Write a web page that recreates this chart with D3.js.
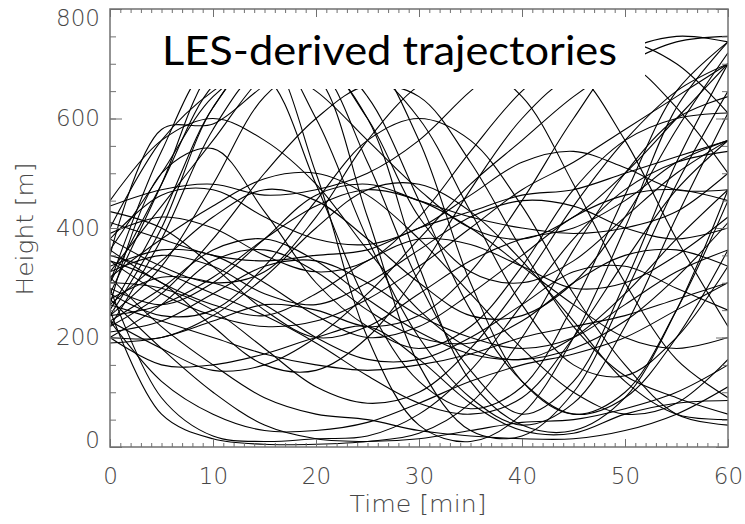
<!DOCTYPE html>
<html>
<head>
<meta charset="utf-8">
<script src="https://cdn.jsdelivr.net/npm/d3@7"></script>
<style>
  body { margin: 0; background: #fff; }
  svg { display: block; }
</style>
</head>
<body>
<svg id="chart" width="745" height="524"></svg>
<script>
// Sample times of each trajectory [min]
const times = [0, 5, 10, 15, 20, 25, 30, 35, 40, 45, 50, 55, 60];

// Parcel heights [m] at each sample time, one row per trajectory
const heights = [
  [250, 420, 620, 720, 700, 520, 300, 140, 60, 120, 300, 520, 700],
  [280, 480, 690, 740, 600, 380, 200, 90, 40, 80, 220, 420, 610],
  [300, 540, 700, 680, 480, 260, 120, 70, 110, 260, 460, 650, 740],
  [220, 380, 580, 700, 730, 640, 450, 250, 120, 60, 90, 200, 360],
  [350, 580, 590, 660, 710, 600, 420, 320, 300, 340, 420, 500, 560],
  [260, 500, 545, 430, 300, 220, 180, 220, 330, 470, 560, 600, 610],
  [400, 560, 650, 700, 650, 560, 470, 400, 380, 420, 500, 600, 700],
  [240, 330, 480, 640, 700, 690, 600, 430, 260, 150, 130, 200, 330],
  [290, 90, 20, 10, 15, 20, 60, 140, 260, 380, 470, 520, 540],
  [250, 60, 15, 5, 5, 10, 25, 80, 200, 360, 500, 600, 640],
  [230, 120, 60, 30, 30, 45, 80, 120, 150, 170, 200, 250, 300],
  [270, 180, 100, 40, 15, 10, 15, 30, 45, 50, 70, 100, 150],
  [310, 220, 150, 90, 60, 50, 30, 20, 15, 15, 30, 60, 110],
  [200, 150, 150, 170, 200, 220, 160, 80, 30, 25, 60, 80, 85],
  [320, 350, 330, 280, 260, 300, 360, 420, 450, 440, 400, 380, 400],
  [360, 300, 260, 240, 280, 340, 380, 370, 330, 290, 300, 350, 420],
  [200, 260, 340, 360, 320, 250, 200, 190, 230, 300, 350, 360, 330],
  [430, 400, 330, 250, 200, 220, 280, 340, 380, 400, 450, 520, 560],
  [380, 460, 470, 420, 380, 370, 400, 460, 520, 540, 510, 470, 470],
  [290, 260, 300, 380, 460, 480, 450, 420, 400, 390, 400, 430, 500],
  [330, 360, 350, 300, 240, 200, 220, 280, 350, 420, 460, 470, 450],
  [450, 560, 600, 560, 480, 360, 250, 180, 160, 200, 280, 380, 470],
  [210, 230, 280, 330, 340, 300, 240, 200, 180, 200, 260, 320, 360],
  [270, 310, 300, 260, 200, 160, 160, 200, 260, 320, 330, 290, 250],
  [300, 480, 660, 720, 500, 200, 40, 10, 60, 200, 400, 620, 740],
  [240, 400, 620, 720, 680, 420, 150, 30, 20, 100, 280, 480, 650],
  [360, 500, 640, 700, 710, 600, 330, 120, 40, 30, 90, 250, 470],
  [320, 440, 560, 680, 740, 720, 560, 300, 120, 60, 100, 250, 450],
  [190, 200, 230, 260, 250, 220, 240, 320, 450, 600, 720, 750, 740],
  [230, 180, 140, 150, 200, 280, 380, 480, 560, 640, 700, 740, 750],
  [340, 280, 240, 220, 230, 270, 330, 400, 470, 520, 580, 640, 700],
  [410, 380, 350, 340, 350, 360, 400, 430, 460, 470, 500, 530, 560],
  [260, 230, 200, 170, 150, 140, 150, 170, 200, 220, 240, 270, 300],
  [300, 290, 250, 180, 110, 80, 100, 180, 300, 440, 560, 650, 700],
  [440, 470, 480, 460, 470, 500, 560, 650, 720, 690, 560, 380, 220],
  [380, 330, 300, 320, 420, 560, 660, 700, 640, 480, 300, 160, 90],
  [220, 280, 380, 500, 600, 660, 640, 520, 360, 220, 130, 90, 60],
  [340, 300, 220, 150, 140, 200, 320, 470, 600, 680, 700, 620, 500],
  [280, 240, 250, 330, 450, 560, 600, 560, 440, 280, 150, 60, 40],
  [260, 340, 420, 470, 450, 380, 300, 240, 240, 300, 420, 580, 720],
  [200, 200, 240, 310, 400, 470, 480, 430, 340, 230, 120, 60, 50],
  [310, 380, 440, 490, 500, 460, 380, 280, 180, 100, 60, 80, 160],
  [350, 320, 280, 240, 190, 130, 80, 60, 90, 200, 340, 470, 560],
  [240, 260, 310, 380, 440, 470, 450, 400, 330, 260, 200, 180, 200],
  [390, 420, 400, 350, 320, 340, 420, 540, 650, 720, 740, 700, 610],
  [230, 290, 360, 380, 340, 270, 210, 170, 160, 180, 230, 310, 410]
];

// Axis ticks
const xTicks = [0, 10, 20, 30, 40, 50, 60];
const xMinorTicks = d3.range(0, 61, 1);
const yTicks = [0, 200, 400, 600, 800];
const yMinorTicks = d3.range(0, 801, 50);

const titleText = "LES-derived trajectories";
const xLabel = "Time [min]";
const yLabel = "Height [m]";

const plot = { left: 110, right: 728, top: 9, bottom: 447 };
const axisColor = "#707070";
const labelColor = "#474747";
const labelFont = "'DejaVu Sans', sans-serif";

const svg = d3.select("#chart");

const x = d3.scaleLinear().domain([0, 60]).range([plot.left, plot.right]);
const y = d3.scaleLinear().domain([0, 800]).range([plot.bottom, plot.top]);

svg.append("defs").append("clipPath").attr("id", "plot-clip")
  .append("rect")
  .attr("x", plot.left).attr("y", plot.top)
  .attr("width", plot.right - plot.left).attr("height", plot.bottom - plot.top);

// Trajectories
const line = d3.line()
  .x((d, i) => x(times[i]))
  .y(d => y(d))
  .curve(d3.curveCatmullRom.alpha(0.5));

svg.append("g").attr("clip-path", "url(#plot-clip)")
  .selectAll("path").data(heights).join("path")
  .attr("d", line)
  .attr("fill", "none")
  .attr("stroke", "#000")
  .attr("stroke-width", 1.1);

// Title panel laid over the upper part of the plot
svg.append("rect")
  .attr("x", 140).attr("y", 14)
  .attr("width", 505).attr("height", 75)
  .attr("fill", "#fff");

svg.append("text")
  .attr("x", 162).attr("y", 65)
  .attr("font-family", "Lato, 'Open Sans', sans-serif")
  .attr("font-size", 40)
  .attr("fill", "#000")
  .attr("textLength", 455)
  .attr("lengthAdjust", "spacingAndGlyphs")
  .text(titleText);

// Axes: ticks point into the plot on all four sides
function styleAxis(g) {
  g.select(".domain").remove();
  g.selectAll(".tick line").attr("stroke", axisColor).attr("stroke-width", 1);
  g.selectAll(".tick text")
    .attr("fill", labelColor)
    .attr("font-family", labelFont)
    .attr("font-weight", 200)
    .attr("font-size", 23);
}

svg.append("g").attr("transform", `translate(0,${plot.bottom})`)
  .call(d3.axisBottom(x).tickValues(xMinorTicks).tickSize(-4).tickFormat(""))
  .call(styleAxis);
svg.append("g").attr("transform", `translate(0,${plot.bottom})`)
  .call(d3.axisBottom(x).tickValues(xTicks).tickSizeInner(-8).tickSizeOuter(0).tickPadding(21).tickFormat(d3.format("d")))
  .call(styleAxis);

svg.append("g").attr("transform", `translate(0,${plot.top})`)
  .call(d3.axisTop(x).tickValues(xMinorTicks).tickSize(-4).tickFormat(""))
  .call(styleAxis);
svg.append("g").attr("transform", `translate(0,${plot.top})`)
  .call(d3.axisTop(x).tickValues(xTicks).tickSize(-8).tickFormat(""))
  .call(styleAxis);

svg.append("g").attr("transform", `translate(${plot.left},0)`)
  .call(d3.axisLeft(y).tickValues(yMinorTicks).tickSize(-6).tickFormat(""))
  .call(styleAxis);
const yAxis = svg.append("g").attr("transform", `translate(${plot.left},0)`)
  .call(d3.axisLeft(y).tickValues(yTicks).tickSizeInner(-12).tickSizeOuter(0).tickPadding(10).tickFormat(d3.format("d")))
  .call(styleAxis);
// end labels sit inside the axis span
yAxis.selectAll(".tick text")
  .attr("dy", d => d === 800 ? "0.72em" : d === 0 ? "0.02em" : "0.32em");

svg.append("g").attr("transform", `translate(${plot.right},0)`)
  .call(d3.axisRight(y).tickValues(yMinorTicks).tickSize(-6).tickFormat(""))
  .call(styleAxis);
svg.append("g").attr("transform", `translate(${plot.right},0)`)
  .call(d3.axisRight(y).tickValues(yTicks).tickSize(-12).tickFormat(""))
  .call(styleAxis);

// Frame
svg.append("rect")
  .attr("x", plot.left).attr("y", plot.top)
  .attr("width", plot.right - plot.left).attr("height", plot.bottom - plot.top)
  .attr("fill", "none")
  .attr("stroke", axisColor)
  .attr("stroke-width", 1.5);

// Axis titles
svg.append("text")
  .attr("x", 418).attr("y", 512)
  .attr("text-anchor", "middle")
  .attr("font-family", labelFont)
  .attr("font-weight", 200)
  .attr("font-size", 23)
  .attr("fill", labelColor)
  .attr("textLength", 137)
  .attr("lengthAdjust", "spacingAndGlyphs")
  .text(xLabel);

svg.append("text")
  .attr("transform", "translate(33,229) rotate(-90)")
  .attr("text-anchor", "middle")
  .attr("font-family", labelFont)
  .attr("font-weight", 200)
  .attr("font-size", 23)
  .attr("fill", labelColor)
  .attr("textLength", 133)
  .attr("lengthAdjust", "spacingAndGlyphs")
  .text(yLabel);
</script>
</body>
</html>
